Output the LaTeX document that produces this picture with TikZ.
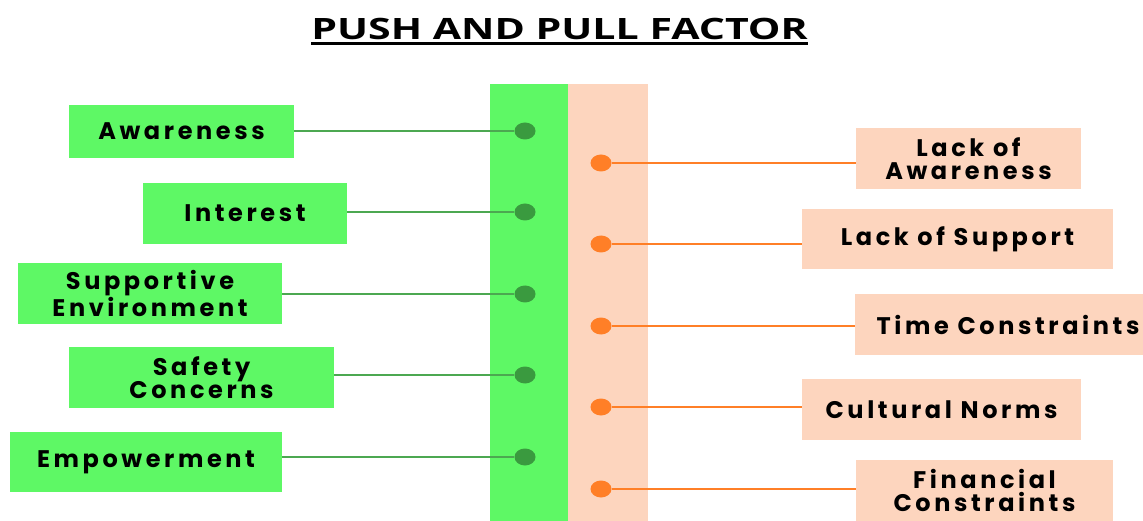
\documentclass[tikz,border=0pt]{standalone}
\usepackage{fontspec}
\usetikzlibrary{shapes.geometric}
\setmainfont{Poppins}
\newfontfamily\titlefont{Open Sans}
\newfontfamily\boxfont[LetterSpace=15]{Poppins}
\definecolor{gbox}{HTML}{5EF865}
\definecolor{gdot}{HTML}{3A9A3F}
\definecolor{gline}{HTML}{4CA851}
\definecolor{pbox}{HTML}{FDD5BE}
\definecolor{odot}{HTML}{FF7F27}
\tikzset{
  boxtext/.style={inner sep=0pt, align=center, font=\boxfont\bfseries\fontsize{24}{23.5}\selectfont},
  lbox/.style={boxtext, fill=gbox},
  rbox/.style={boxtext, fill=pbox},
  gdotn/.style={ellipse, fill=gdot, minimum width=21pt, minimum height=17pt, inner sep=0pt},
  odotn/.style={ellipse, fill=odot, minimum width=21pt, minimum height=17pt, inner sep=0pt},
  gconn/.style={draw=gline, line width=2.8pt},
  oconn/.style={draw=odot, line width=2.8pt},
}
\begin{document}
\begin{tikzpicture}[x=1pt,y=-1pt]
\useasboundingbox (0,0) rectangle (1143,521);
\clip (0,0) rectangle (1143,521);
\fill[white] (0,0) rectangle (1143,521);
% title
\node[font=\titlefont\bfseries\fontsize{29.4}{30}\selectfont, inner sep=0pt, anchor=base] (title) at (559.5,39.3) {\scalebox{1.397}[1]{PUSH AND PULL FACTOR}};
\draw[line width=2.6pt] ([yshift=-4.2pt]title.base west) -- ([yshift=-4.2pt]title.base east);
% bars
\fill[gbox] (490,84) rectangle (568,530);
\fill[pbox] (568,84) rectangle (648,530);
% left boxes
\node[lbox, minimum width=225pt, minimum height=53pt] (l1) at (181.5,131.5) {Awareness};
\node[lbox, minimum width=204pt, minimum height=61pt] (l2) at (245,213.5) {Interest};
\node[lbox, minimum width=264pt, minimum height=61pt] (l3) at (150,293.5) {Supportive\\Environment};
\node[lbox, minimum width=265pt, minimum height=61pt] (l4) at (201.5,377.5) {Safety\\Concerns};
\node[lbox, minimum width=272pt, minimum height=60pt] (l5) at (146,462) {Empowerment};
% green dots
\node[gdotn] (g1) at (525,131) {};
\node[gdotn] (g2) at (525,212) {};
\node[gdotn] (g3) at (525,294) {};
\node[gdotn] (g4) at (525,375) {};
\node[gdotn] (g5) at (525,457) {};
% right boxes
\node[rbox, minimum width=225pt, minimum height=61pt] (r1) at (968.5,158.5) {Lack of\\Awareness};
\node[rbox, minimum width=311pt, minimum height=60pt] (r2) at (957.5,239) {Lack of Support};
\node[rbox, minimum width=306pt, minimum height=61pt] (r3) at (1008,324.5) {Time Constraints};
\node[rbox, minimum width=279pt, minimum height=61pt] (r4) at (941.5,409.5) {Cultural Norms};
\node[rbox, minimum width=257pt, minimum height=61pt] (r5) at (984.5,490.5) {Financial\\Constraints};
% orange dots
\node[odotn] (o1) at (601,163) {};
\node[odotn] (o2) at (601,244) {};
\node[odotn] (o3) at (601,326) {};
\node[odotn] (o4) at (601,407) {};
\node[odotn] (o5) at (601,489) {};
% connectors
\foreach \i in {1,...,5} {
  \draw[gconn] (l\i.east |- g\i) -- (g\i.west);
  \draw[oconn] (o\i.east) -- (r\i.west |- o\i);
}
\end{tikzpicture}
\end{document}
